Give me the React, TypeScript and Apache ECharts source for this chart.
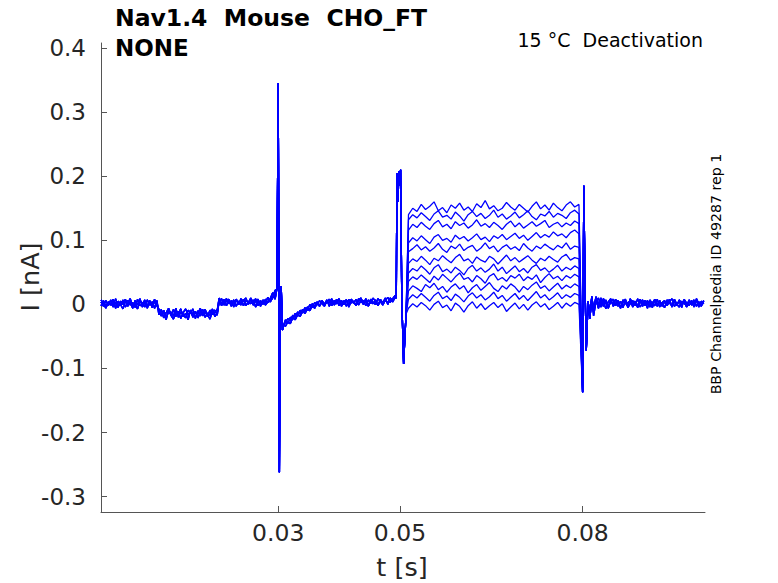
import React, { useEffect, useRef } from "react";
import * as echarts from "echarts";

// ---- axis ticks ----
const xTicks = [0.03, 0.05, 0.08];
const xTickLabels = ["0.03", "0.05", "0.08"];
const yTicks = [-0.3, -0.2, -0.1, 0, 0.1, 0.2, 0.3, 0.4];
const yTickLabels = ["-0.3", "-0.2", "-0.1", "0", "0.1", "0.2", "0.3", "0.4"];

// ---- shared baseline segments (nA), three noise variants each ----
const spanA = [0.0009, 0.0101];
const baseA1 = [0.004, -0.003, 0.006, -0.002, 0.007, -0.004, 0.003, -0.005, 0.005, 0.0, 0.008, -0.003, 0.004, -0.006, 0.006, -0.001, 0.009, -0.004, 0.003, -0.002, 0.006, -0.005, 0.004, 0.001];
const baseA2 = [-0.002, 0.006, -0.005, 0.003, -0.001, 0.008, -0.006, 0.005, -0.002, 0.007, -0.004, 0.002, 0.009, -0.003, 0.001, -0.007, 0.005, 0.002, -0.004, 0.007, -0.001, 0.004, -0.006, 0.006];
const baseA3 = [0.007, 0.0, -0.006, 0.004, 0.001, -0.003, 0.009, -0.002, 0.0, -0.007, 0.004, 0.006, -0.001, 0.003, -0.005, 0.008, -0.002, 0.001, 0.007, -0.006, 0.003, 0.0, 0.008, -0.003];
const spanB = [0.0104, 0.02];
const baseB1 = [-0.01, -0.018, -0.009, -0.02, -0.012, -0.016, -0.008, -0.019, -0.011, -0.022, -0.013, -0.007, -0.017, -0.01, -0.02, -0.012, -0.015, -0.006, -0.018, -0.011, -0.019, -0.009, -0.016, -0.012, -0.008];
const baseB2 = [-0.016, -0.008, -0.021, -0.013, -0.006, -0.017, -0.023, -0.01, -0.015, -0.007, -0.019, -0.014, -0.024, -0.009, -0.016, -0.011, -0.021, -0.013, -0.008, -0.02, -0.014, -0.017, -0.007, -0.019, -0.013];
const baseB3 = [-0.007, -0.015, -0.012, -0.024, -0.009, -0.013, -0.018, -0.006, -0.02, -0.012, -0.016, -0.021, -0.009, -0.014, -0.007, -0.022, -0.01, -0.018, -0.013, -0.008, -0.016, -0.023, -0.011, -0.009, -0.017];
const spanC = [0.0203, 0.0295];
const baseC1 = [0.01, 0.001, 0.008, -0.002, 0.006, 0.0, 0.007, -0.003, 0.005, 0.002, 0.008, -0.002, 0.004, 0.001, 0.007, -0.004, 0.005, 0.002, 0.006, -0.001, 0.004, 0.009, 0.018, 0.008];
const baseC2 = [0.003, 0.009, -0.001, 0.005, 0.008, -0.003, 0.004, 0.007, 0.0, 0.009, -0.002, 0.006, 0.003, 0.01, -0.001, 0.005, 0.008, -0.003, 0.007, 0.002, 0.011, 0.004, 0.01, 0.016];
const baseC3 = [0.006, -0.002, 0.004, 0.009, 0.001, 0.006, -0.004, 0.008, 0.003, -0.001, 0.006, 0.01, 0.0, 0.007, 0.003, 0.009, -0.002, 0.006, 0.0, 0.008, 0.003, 0.006, 0.012, 0.022];
const spike1T = [0.0298, 0.03, 0.03012, 0.0302, 0.03035, 0.0305, 0.0307, 0.0309];
const spike1I = [0.024, 0.345, 0.05, -0.262, 0.015, 0.028, -0.04, -0.032];
const spanD = [0.0312, 0.0492];
const baseD1 = [-0.028, -0.022, -0.025, -0.017, -0.02, -0.012, -0.015, -0.008, -0.011, -0.004, -0.008, 0.001, -0.004, 0.004, -0.002, 0.006, 0.0, 0.007, -0.003, 0.005, 0.001, 0.008, -0.002, 0.006, 0.0, 0.007, -0.004, 0.005, 0.002, 0.008, -0.001, 0.006, 0.0, 0.009, -0.003, 0.005, 0.001, 0.007, -0.002, 0.006, 0.003, 0.01, 0.0, 0.008, 0.004, 0.011];
const baseD2 = [-0.034, -0.027, -0.03, -0.021, -0.024, -0.016, -0.019, -0.011, -0.014, -0.007, -0.01, -0.002, -0.006, 0.002, -0.003, 0.005, -0.001, 0.004, 0.008, -0.002, 0.006, 0.001, 0.009, -0.003, 0.004, 0.007, -0.001, 0.008, 0.003, -0.002, 0.006, 0.01, 0.001, 0.005, -0.002, 0.008, 0.003, 0.0, 0.009, 0.004, -0.001, 0.007, 0.002, 0.01, 0.006, 0.012];
const baseD3 = [-0.024, -0.03, -0.02, -0.023, -0.014, -0.018, -0.009, -0.013, -0.005, -0.009, 0.0, -0.005, 0.003, -0.001, 0.006, 0.001, -0.003, 0.005, 0.002, 0.009, -0.001, 0.004, 0.007, 0.0, 0.006, -0.003, 0.008, 0.002, 0.005, -0.001, 0.009, 0.003, 0.006, -0.002, 0.007, 0.001, 0.01, 0.004, -0.001, 0.008, 0.002, 0.006, 0.011, 0.003, 0.009, 0.014];
const spike2T = [0.0494, 0.0495, 0.0497, 0.0498, 0.05, 0.0501, 0.0503, 0.0506, 0.051];
const spike2I = [0.01, 0.205, 0.16, 0.208, 0.185, 0.21, 0.01, -0.093, -0.015];
const spike3T = [0.08, 0.0802, 0.0804, 0.0806, 0.0809, 0.0812, 0.0815];
const spike3I = [-0.137, 0.185, 0.03, -0.072, 0.005, -0.022, 0.012];
const spanE = [0.0818, 0.0999];
const baseE1 = [-0.012, 0.008, -0.006, 0.01, -0.003, 0.007, -0.004, 0.006, 0.0, 0.008, -0.003, 0.005, -0.005, 0.006, 0.001, 0.007, -0.004, 0.004, -0.002, 0.008, -0.003, 0.006, 0.0, 0.005, -0.005, 0.007, -0.001, 0.006, -0.003, 0.004, 0.001, 0.008, -0.004, 0.005, -0.002, 0.007, 0.0, 0.006, -0.004, 0.005, 0.001, 0.007, -0.003, 0.004, 0.0, 0.006];
const baseE2 = [-0.006, 0.012, 0.001, -0.004, 0.009, 0.002, -0.006, 0.005, 0.008, -0.002, 0.004, -0.006, 0.007, 0.002, -0.003, 0.009, -0.001, 0.005, -0.005, 0.003, 0.007, -0.002, 0.006, -0.004, 0.002, 0.008, -0.003, 0.004, 0.001, -0.005, 0.007, 0.002, -0.002, 0.008, 0.0, -0.004, 0.005, 0.002, -0.003, 0.007, -0.001, 0.004, 0.006, -0.004, 0.005, 0.001];
const baseE3 = [-0.018, 0.004, 0.01, -0.002, 0.005, -0.007, 0.004, 0.009, -0.003, 0.002, 0.006, -0.004, 0.003, 0.008, -0.005, 0.001, 0.006, -0.002, 0.009, -0.004, 0.002, 0.005, -0.006, 0.007, 0.001, -0.002, 0.008, -0.004, 0.003, 0.006, -0.002, 0.004, 0.009, -0.003, 0.001, 0.005, -0.005, 0.008, 0.002, -0.002, 0.006, -0.004, 0.009, 0.001, -0.003, 0.005];

// ---- per-trace step segment (nA) during 0.0514 .. 0.0794 s ----
const spanStep = [0.0514, 0.0794];
const s01 = [0.14, 0.15, 0.145, 0.156, 0.148, 0.153, 0.16, 0.146, 0.151, 0.143, 0.155, 0.15, 0.158, 0.147, 0.152, 0.145, 0.157, 0.151, 0.162, 0.149, 0.154, 0.146, 0.15, 0.159, 0.152, 0.147, 0.156, 0.15, 0.144, 0.153, 0.16, 0.149, 0.155, 0.147, 0.158, 0.151, 0.146, 0.155, 0.16, 0.152, 0.156];
const s02 = [0.132, 0.14, 0.135, 0.143, 0.137, 0.131, 0.141, 0.146, 0.136, 0.139, 0.133, 0.144, 0.138, 0.13, 0.14, 0.145, 0.137, 0.142, 0.134, 0.139, 0.147, 0.136, 0.141, 0.133, 0.138, 0.144, 0.135, 0.14, 0.146, 0.137, 0.132, 0.141, 0.138, 0.145, 0.136, 0.142, 0.139, 0.134, 0.143, 0.147, 0.141];
const s03 = [0.116, 0.125, 0.12, 0.128, 0.122, 0.117, 0.126, 0.131, 0.121, 0.125, 0.118, 0.129, 0.123, 0.127, 0.119, 0.124, 0.132, 0.122, 0.126, 0.12, 0.128, 0.123, 0.117, 0.125, 0.13, 0.121, 0.127, 0.119, 0.124, 0.129, 0.122, 0.126, 0.131, 0.12, 0.125, 0.128, 0.121, 0.127, 0.123, 0.13, 0.126];
const s04 = [0.096, 0.104, 0.099, 0.107, 0.101, 0.095, 0.105, 0.109, 0.1, 0.103, 0.097, 0.108, 0.102, 0.106, 0.099, 0.104, 0.11, 0.101, 0.105, 0.098, 0.107, 0.103, 0.109, 0.101, 0.106, 0.111, 0.103, 0.108, 0.1, 0.106, 0.112, 0.104, 0.109, 0.105, 0.113, 0.107, 0.11, 0.104, 0.112, 0.116, 0.11];
const s05 = [0.082, 0.087, 0.093, 0.085, 0.09, 0.083, 0.088, 0.095, 0.086, 0.081, 0.091, 0.087, 0.094, 0.084, 0.089, 0.092, 0.083, 0.088, 0.096, 0.087, 0.091, 0.082, 0.089, 0.093, 0.086, 0.09, 0.084, 0.095, 0.088, 0.083, 0.091, 0.087, 0.094, 0.089, 0.085, 0.092, 0.088, 0.096, 0.086, 0.091, 0.089];
const s06 = [0.064, 0.071, 0.067, 0.075, 0.069, 0.062, 0.072, 0.068, 0.076, 0.07, 0.065, 0.073, 0.078, 0.068, 0.071, 0.064, 0.074, 0.069, 0.066, 0.075, 0.071, 0.063, 0.07, 0.077, 0.068, 0.073, 0.066, 0.071, 0.076, 0.069, 0.064, 0.072, 0.068, 0.075, 0.07, 0.066, 0.074, 0.078, 0.069, 0.073, 0.071];
const s07 = [0.049, 0.056, 0.052, 0.06, 0.054, 0.047, 0.057, 0.062, 0.051, 0.055, 0.049, 0.058, 0.053, 0.046, 0.056, 0.061, 0.052, 0.057, 0.05, 0.055, 0.063, 0.052, 0.058, 0.048, 0.054, 0.06, 0.051, 0.056, 0.049, 0.058, 0.062, 0.053, 0.057, 0.05, 0.055, 0.061, 0.052, 0.058, 0.054, 0.06, 0.056];
const s08 = [0.036, 0.043, 0.039, 0.046, 0.04, 0.034, 0.044, 0.038, 0.047, 0.041, 0.035, 0.043, 0.049, 0.039, 0.042, 0.035, 0.045, 0.04, 0.033, 0.044, 0.048, 0.038, 0.042, 0.036, 0.045, 0.041, 0.047, 0.037, 0.043, 0.039, 0.046, 0.034, 0.042, 0.048, 0.04, 0.044, 0.037, 0.045, 0.041, 0.047, 0.043];
const s09 = [0.021, 0.029, 0.025, 0.02, 0.031, 0.026, 0.033, 0.023, 0.028, 0.019, 0.027, 0.032, 0.024, 0.029, 0.018, 0.026, 0.031, 0.022, 0.028, 0.034, 0.025, 0.02, 0.029, 0.024, 0.032, 0.027, 0.019, 0.028, 0.023, 0.03, 0.035, 0.025, 0.029, 0.021, 0.027, 0.033, 0.024, 0.03, 0.026, 0.032, 0.028];
const s10 = [0.008, 0.015, 0.01, 0.017, 0.011, 0.005, 0.014, 0.019, 0.009, 0.013, 0.006, 0.016, 0.011, 0.004, 0.013, 0.018, 0.01, 0.015, 0.007, 0.012, 0.019, 0.009, 0.014, 0.005, 0.011, 0.017, 0.008, 0.014, 0.006, 0.013, 0.02, 0.01, 0.015, 0.007, 0.012, 0.018, 0.009, 0.015, 0.011, 0.017, 0.014];
const s11 = [-0.006, 0.001, -0.004, 0.003, -0.002, -0.009, 0.0, 0.005, -0.005, -0.001, -0.01, 0.002, -0.003, -0.012, -0.002, 0.004, -0.006, 0.001, -0.008, -0.002, 0.003, -0.005, 0.001, -0.011, -0.004, 0.002, -0.007, 0.0, -0.009, -0.001, 0.004, -0.004, 0.001, -0.008, -0.003, 0.003, -0.006, 0.002, -0.003, 0.003, 0.0];
const steps = [s01, s02, s03, s04, s05, s06, s07, s08, s09, s10, s11];

const baseVariants = [
  [baseA1, baseB1, baseC1, baseD1, baseE1],
  [baseA2, baseB2, baseC2, baseD2, baseE2],
  [baseA3, baseB3, baseC3, baseD3, baseE3],
];

// spread a segment's samples evenly over its time span
const seg = (span: number[], vals: number[]) =>
  vals.map((v, i) => [span[0] + ((span[1] - span[0]) * i) / (vals.length - 1), v]);
const pairs = (ts: number[], vs: number[]) => ts.map((t, i) => [t, vs[i]]);

const buildTrace = (k: number) => {
  const [a, b, c, d, e] = baseVariants[k % 3];
  return [
    ...seg(spanA, a),
    ...seg(spanB, b),
    ...seg(spanC, c),
    ...pairs(spike1T, spike1I),
    ...seg(spanD, d),
    ...pairs(spike2T, spike2I),
    ...seg(spanStep, steps[k]),
    ...pairs(spike3T, spike3I),
    ...seg(spanE, e),
  ];
};

const FONT = "DejaVu Sans";
const TXT = "#262626";
const AX = "#555555";

export default function App() {
  const ref = useRef<HTMLDivElement>(null);
  useEffect(() => {
    if (!ref.current) return;
    const chart = echarts.init(ref.current, undefined, { renderer: "svg" });
    const series = steps.map((_, k) => ({
      type: "line",
      name: "trace" + (k + 1),
      data: buildTrace(k),
      showSymbol: false,
      symbol: "none",
      lineStyle: { color: "#0000ff", width: 1.3 },
      itemStyle: { color: "#0000ff" },
      emphasis: { disabled: true },
      silent: true,
    }));
    chart.setOption({
      animation: false,
      backgroundColor: "#ffffff",
      grid: { left: 101, right: 73, top: 43, bottom: 71, containLabel: false, outerBoundsMode: "none" },
      xAxis: {
        type: "value",
        min: 0.0009,
        max: 0.1001,
        splitLine: { show: false },
        axisLine: { show: true, onZero: false, lineStyle: { color: AX, width: 1 } },
        axisTick: { show: true, inside: true, length: 6, customValues: xTicks, lineStyle: { color: AX } },
        axisLabel: {
          customValues: xTicks,
          formatter: (v: number) => {
            const i = xTicks.findIndex((t) => Math.abs(t - v) < 1e-9);
            return i >= 0 ? xTickLabels[i] : "";
          },
          color: TXT,
          fontFamily: FONT,
          fontSize: 23.5,
          margin: 9,
        },
      },
      yAxis: {
        type: "value",
        min: -0.3239,
        max: 0.4078,
        splitLine: { show: false },
        axisLine: { show: true, onZero: false, lineStyle: { color: AX, width: 1 } },
        axisTick: { show: true, inside: true, length: 6, customValues: yTicks, lineStyle: { color: AX } },
        axisLabel: {
          customValues: yTicks,
          formatter: (v: number) => {
            const i = yTicks.findIndex((t) => Math.abs(t - v) < 1e-9);
            return i >= 0 ? yTickLabels[i] : "";
          },
          color: TXT,
          fontFamily: FONT,
          fontSize: 23,
          margin: 15,
        },
      },
      graphic: [
        {
          type: "text",
          x: 115,
          y: 17.5,
          style: { text: "Nav1.4  Mouse  CHO_FT", font: `bold 23.5px '${FONT}'`, fill: "#000", align: "left", verticalAlign: "middle" },
        },
        {
          type: "text",
          x: 115,
          y: 47.7,
          style: { text: "NONE", font: `bold 23px '${FONT}'`, fill: "#000", align: "left", verticalAlign: "middle" },
        },
        {
          type: "text",
          x: 703,
          y: 40,
          style: { text: "15 °C  Deactivation", font: `19px '${FONT}'`, fill: "#000", align: "right", verticalAlign: "middle" },
        },
        {
          type: "text",
          x: 402,
          y: 567,
          style: { text: "t [s]", font: `25.5px '${FONT}'`, fill: TXT, align: "center", verticalAlign: "middle" },
        },
        {
          type: "text",
          x: 30,
          y: 277,
          rotation: Math.PI / 2,
          style: { text: "I [nA]", font: `25.5px '${FONT}'`, fill: TXT, align: "center", verticalAlign: "middle" },
        },
        {
          type: "text",
          x: 716,
          y: 274,
          rotation: Math.PI / 2,
          style: { text: "BBP Channelpedia ID 49287 rep 1", font: `14.2px '${FONT}'`, fill: "#000", align: "center", verticalAlign: "middle" },
        },
      ],
      series,
    });
    return () => chart.dispose();
  }, []);
  return (
    <div
      ref={ref}
      style={{ position: "absolute", left: 0, top: 0, width: 778, height: 583, background: "#fff" }}
    />
  );
}
